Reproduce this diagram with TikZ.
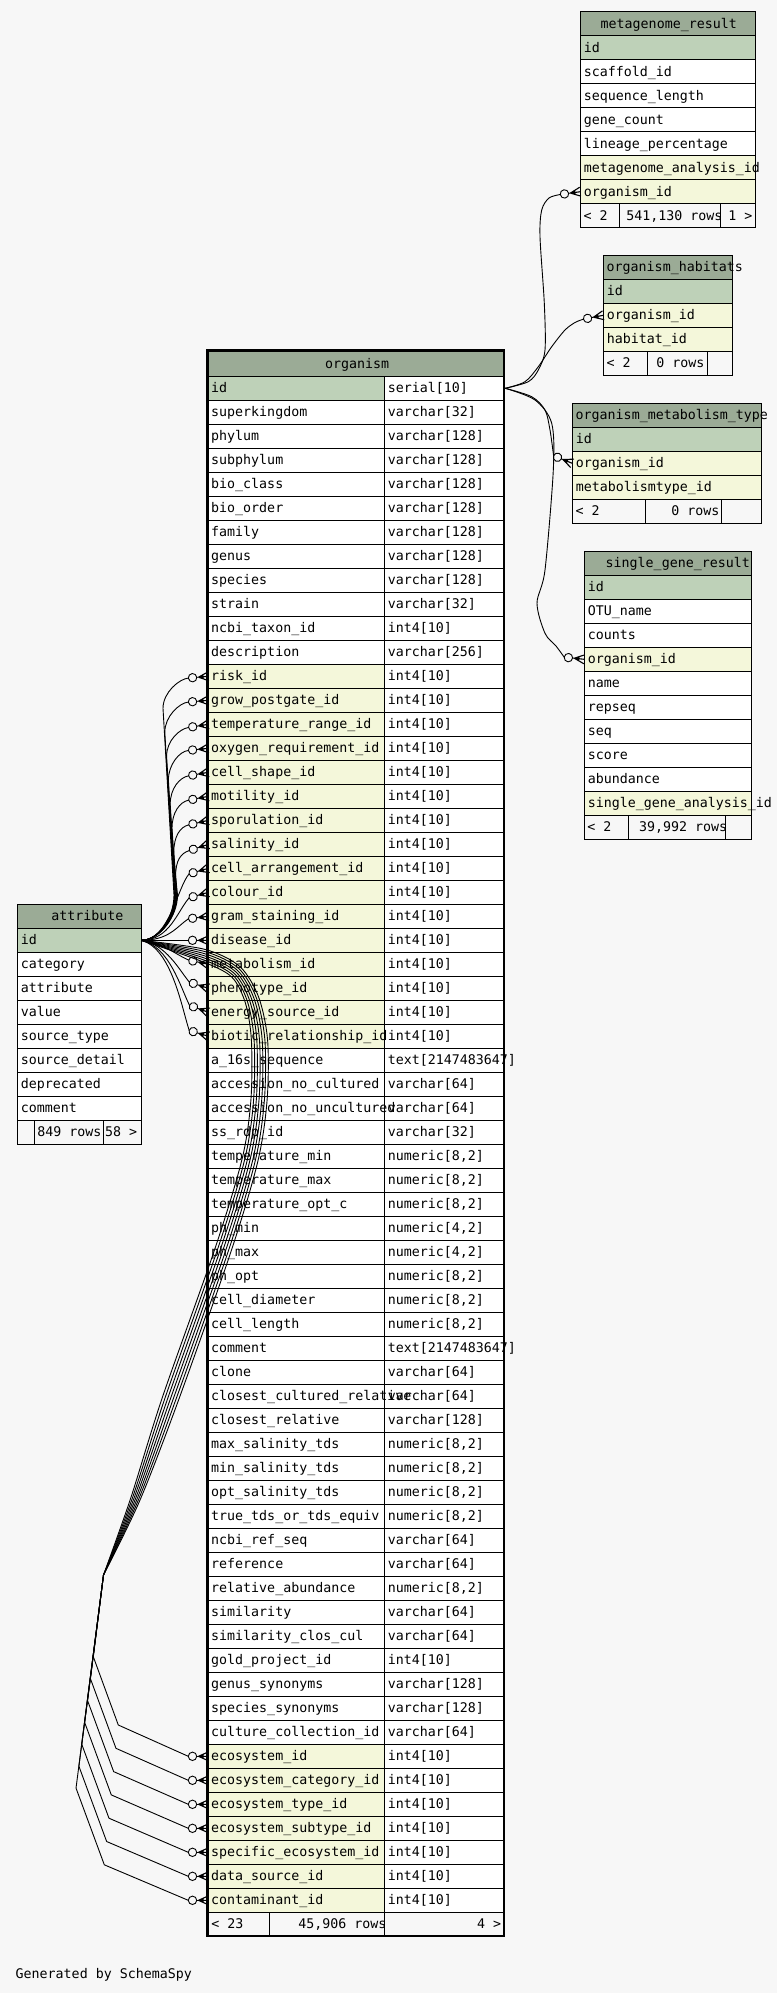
\documentclass[tikz,border=0pt]{standalone}
\usepackage{fontspec}
\setmonofont{DejaVu Sans Mono}
\usetikzlibrary{calc}

\definecolor{bgc}{HTML}{F7F7F7}
\definecolor{hdrc}{HTML}{9BAB96}
\definecolor{pkc}{HTML}{BED1B8}
\definecolor{fkc}{HTML}{F4F7DA}
\newcommand{\dbfont}{\fontsize{13.3}{16}\selectfont\ttfamily}

\tikzset{
  cellline/.style={draw=black, line width=1pt},
  lbl/.style={anchor=base west, inner sep=0pt, outer sep=0pt, font=\dbfont, text=black},
  edgeline/.style={draw=black, line width=0.9pt},
  pics/crowodot/.style={code={
    \draw[edgeline, line width=1.1pt] (-10,0) -- (0,-4.5) (-10,0) -- (0,0) (-10,0) -- (0,4.5);
    \fill[black] (-10,0) -- (-5,-2.2) -- (-5,2.2) -- cycle;
    \draw[edgeline] (-11.8,0) -- (-10,0);
    \draw[edgeline, fill=bgc] (-16,0) circle [radius=4.2];
    \coordinate (-end) at (-20.2,0);
  }}
}

% single-column table: prefix, left x, right x, top y, header text x, header text, rows (text/fill)
\newcommand{\onecol}[7]{
  \filldraw[fill=hdrc, cellline] (#2,#4) rectangle (#3,#4+24);
  \foreach \txt/\fc [count=\n from 0] in {#7} {
    \filldraw[fill=\fc, cellline] (#2,#4+24+24*\n) rectangle (#3,#4+48+24*\n);
  }
  \node[lbl] (#1-head) at (#5,#4+16.5) {#6};
  \foreach \txt/\fc [count=\n from 0] in {#7} {
    \node[lbl] (#1-\n) at (#2+3.5,#4+40.5+24*\n) {\txt};
    \coordinate (#1-L\n) at (#2,#4+36+24*\n);
    \coordinate (#1-R\n) at (#3,#4+36+24*\n);
  }
}
% footer row: left x, first divider, second divider, right x, top y
\newcommand{\footcells}[5]{
  \filldraw[fill=bgc, cellline] (#1,#5) rectangle (#2,#5+24);
  \filldraw[fill=bgc, cellline] (#2,#5) rectangle (#3,#5+24);
  \filldraw[fill=bgc, cellline] (#3,#5) rectangle (#4,#5+24);
}

\def\orgrows{id/pkc/serial[10],
superkingdom/white/varchar[32],
phylum/white/varchar[128],
subphylum/white/varchar[128],
bio\_class/white/varchar[128],
bio\_order/white/varchar[128],
family/white/varchar[128],
genus/white/varchar[128],
species/white/varchar[128],
strain/white/varchar[32],
ncbi\_taxon\_id/white/int4[10],
description/white/varchar[256],
risk\_id/fkc/int4[10],
grow\_postgate\_id/fkc/int4[10],
temperature\_range\_id/fkc/int4[10],
oxygen\_requirement\_id/fkc/int4[10],
cell\_shape\_id/fkc/int4[10],
motility\_id/fkc/int4[10],
sporulation\_id/fkc/int4[10],
salinity\_id/fkc/int4[10],
cell\_arrangement\_id/fkc/int4[10],
colour\_id/fkc/int4[10],
gram\_staining\_id/fkc/int4[10],
disease\_id/fkc/int4[10],
metabolism\_id/fkc/int4[10],
phenotype\_id/fkc/int4[10],
energy\_source\_id/fkc/int4[10],
biotic\_relationship\_id/fkc/int4[10],
a\_16s\_sequence/white/text[2147483647],
accession\_no\_cultured/white/varchar[64],
accession\_no\_uncultured/white/varchar[64],
ss\_rdp\_id/white/varchar[32],
temperature\_min/white/numeric[8{,}2],
temperature\_max/white/numeric[8{,}2],
temperature\_opt\_c/white/numeric[8{,}2],
ph\_min/white/numeric[4{,}2],
ph\_max/white/numeric[4{,}2],
ph\_opt/white/numeric[8{,}2],
cell\_diameter/white/numeric[8{,}2],
cell\_length/white/numeric[8{,}2],
comment/white/text[2147483647],
clone/white/varchar[64],
closest\_cultured\_relative/white/varchar[64],
closest\_relative/white/varchar[128],
max\_salinity\_tds/white/numeric[8{,}2],
min\_salinity\_tds/white/numeric[8{,}2],
opt\_salinity\_tds/white/numeric[8{,}2],
true\_tds\_or\_tds\_equiv/white/numeric[8{,}2],
ncbi\_ref\_seq/white/varchar[64],
reference/white/varchar[64],
relative\_abundance/white/numeric[8{,}2],
similarity/white/varchar[64],
similarity\_clos\_cul/white/varchar[64],
gold\_project\_id/white/int4[10],
genus\_synonyms/white/varchar[128],
species\_synonyms/white/varchar[128],
culture\_collection\_id/white/varchar[64],
ecosystem\_id/fkc/int4[10],
ecosystem\_category\_id/fkc/int4[10],
ecosystem\_type\_id/fkc/int4[10],
ecosystem\_subtype\_id/fkc/int4[10],
specific\_ecosystem\_id/fkc/int4[10],
data\_source\_id/fkc/int4[10],
contaminant\_id/fkc/int4[10]}

\begin{document}
\begin{tikzpicture}[x=1pt, y=-1pt]
\useasboundingbox (0,0) rectangle (777,1993);
\fill[bgc] (0,0) rectangle (777,1993);

% ---------- metagenome_result ----------
\onecol{mg}{580.3}{755.3}{11.7}{600.7}{metagenome\_result}{id/pkc, scaffold\_id/white, sequence\_length/white, gene\_count/white, lineage\_percentage/white, metagenome\_analysis\_id/fkc, organism\_id/fkc}
\footcells{580.3}{619.3}{720.7}{755.3}{203.7}
\node[lbl] (mg-fl) at (583.7,220.2) {< 2};
\begin{scope}
  \clip (619.3,203.7) rectangle (720.7,227.7);
  \node[lbl] (mg-fm) at (626.3,220.2) {541,130 rows};
\end{scope}
\node[lbl] (mg-fr) at (728.3,220.2) {1 >};

% ---------- organism_habitats ----------
\onecol{hab}{603.3}{732.3}{255.3}{606.7}{organism\_habitats}{id/pkc, organism\_id/fkc, habitat\_id/fkc}
\footcells{603.3}{647.3}{707.7}{732.3}{351.3}
\node[lbl] (hab-fl) at (606.7,367.8) {< 2};
\node[lbl] (hab-fm) at (656.3,367.8) {0 rows};

% ---------- organism_metabolism_type ----------
\onecol{omt}{572.3}{761.3}{403.3}{575.7}{organism\_metabolism\_type}{id/pkc, organism\_id/fkc, metabolismtype\_id/fkc}
\footcells{572.3}{645.3}{721.3}{761.3}{499.3}
\node[lbl] (omt-fl) at (575.7,515.8) {< 2};
\node[lbl] (omt-fm) at (671.3,515.8) {0 rows};

% ---------- single_gene_result ----------
\onecol{sg}{584.3}{751.7}{551.3}{605.7}{single\_gene\_result}{id/pkc, OTU\_name/white, counts/white, organism\_id/fkc, name/white, repseq/white, seq/white, score/white, abundance/white, single\_gene\_analysis\_id/fkc}
\footcells{584.3}{628.3}{725.7}{751.7}{815.3}
\node[lbl] (sg-fl) at (587.3,831.8) {< 2};
\begin{scope}
  \clip (628.3,815.3) rectangle (725.7,839.3);
  \node[lbl] (sg-fm) at (639,831.8) {39,992 rows};
\end{scope}

% ---------- attribute ----------
\onecol{att}{17.3}{141.3}{904.3}{51.3}{attribute}{id/pkc, category/white, attribute/white, value/white, source\_type/white, source\_detail/white, deprecated/white, comment/white}
\footcells{17.3}{34.3}{103.7}{141.3}{1120.3}
\node[lbl] (att-fm) at (37.3,1136.8) {849 rows};
\node[lbl] (att-fr) at (105,1136.8) {58 >};

% ---------- organism ----------
\filldraw[fill=hdrc, cellline] (207.3,350.6) rectangle (504,376.3);
\foreach \colA/\colF/\colB [count=\n from 0] in \orgrows {
  \filldraw[fill=\colF, cellline] (207.3,376.3+24*\n) rectangle (384.3,400.3+24*\n);
  \filldraw[fill=white, cellline] (384.3,376.3+24*\n) rectangle (504,400.3+24*\n);
}
\footcells{207.3}{269}{384.3}{504}{1912.3}
\node[lbl] (org-head) at (325,368.8) {organism};
\foreach \colA/\colF/\colB [count=\n from 0] in \orgrows {
  \node[lbl] (org-c\n) at (211.2,392.8+24*\n) {\colA};
  \node[lbl] (org-t\n) at (387.8,392.8+24*\n) {\colB};
  \coordinate (org-L\n) at (208.5,388.3+24*\n);
}
\coordinate (org-R0) at (505.3,388.3);
\node[lbl] (org-fl) at (211.3,1928.8) {< 23};
\begin{scope}
  \clip (269,1912.3) rectangle (384.3,1936);
  \node[lbl] (org-fm) at (298.3,1928.8) {45,906 rows};
\end{scope}
\node[lbl] (org-fr) at (477,1928.8) {4 >};
\draw[line width=2.6pt] (207.3,350.6) rectangle (504,1936);

% ---------- crow's-foot heads ----------
\foreach \kk/\ang in {12/5,13/5,14/9,15/6,16/10,17/11,18/13,19/18,20/16,21/16,22/7,23/0,24/-12,25/-18,26/-20,27/-17,57/0,58/0,59/0,60/0,61/0,62/0,63/0}
  {\pic[rotate=\ang] (h\kk) at (org-L\kk) {crowodot};}
\pic[rotate=8] (hmg) at (mg-L6) {crowodot};
\pic[rotate=11] (hhab) at (hab-L1) {crowodot};
\pic[rotate=-22] (homt) at (omt-L1) {crowodot};
\pic[rotate=-6] (hsg) at (sg-L3) {crowodot};

% ---------- organism.id -> tables on the right ----------
\draw[edgeline] plot[smooth] coordinates {(org-R0) (528.3,381.7) (538.3,370) (545,350) (544.3,303.3) (540,236.7) (541.7,210) (549,198) (hmg-end)};
\draw[edgeline] plot[smooth] coordinates {(org-R0) (525,381.7) (538.3,366.7) (551.7,346.7) (565,330) (575,322.5) (hhab-end)};
\draw[edgeline] plot[smooth] coordinates {(org-R0) (531.7,396.7) (545,410) (550,430) (homt-end)};
\draw[edgeline] plot[smooth] coordinates {(org-R0) (535,400) (551.7,423.3) (553.3,470) (545,570) (537,603.3) (545,633.3) (556,646) (hsg-end)};

% ---------- attribute.id -> organism foreign keys ----------
\foreach \kk/\ang in {12/5,13/5,14/9,15/6,16/10,17/11,18/13,19/18} {
  \pgfmathsetmacro\xv{163+1.8*(\kk-12)}
  \pgfmathsetmacro\xb{174+0.5*(\kk-12)}
  \pgfmathsetmacro\yv{388.3+24*\kk+32}
  \draw[edgeline] (att-R0) .. controls +(18,0) and +(0,22) .. (\xb,895) -- (\xv,\yv)
    .. controls +(0,-16) and +(180-\ang:9) .. (h\kk-end);
}
\draw[edgeline] (att-R0) .. controls +(28,0) and +(-12,14) .. (h20-end);
\draw[edgeline] (att-R0) .. controls +(28,0) and +(-12,14) .. (h21-end);
\draw[edgeline] (att-R0) .. controls +(28,0) and +(-12,8) .. (h22-end);
\draw[edgeline] (att-R0) -- (h23-end);
\draw[edgeline] (att-R0) .. controls +(20,2) and +(-10,-4) .. (h24-end);
\draw[edgeline] (att-R0) .. controls +(25,4) and +(-10,-12) .. (h25-end);
\draw[edgeline] (att-R0) .. controls +(28,6) and +(-9,-18) .. (h26-end);
\draw[edgeline] (att-R0) .. controls +(30,8) and +(-8,-25) .. (h27-end);

% the ecosystem / source group runs down through the organism table
\foreach \ii in {0,...,6} {
  \pgfmathsetmacro\sh{3-\ii}
  \pgfmathtruncatemacro\kk{57+\ii}
  \pgfmathsetmacro\qx{93.3-2.88*\ii}
  \pgfmathsetmacro\qy{1656.7+21.9*\ii}
  \pgfmathsetmacro\rx{118.3-2.33*\ii}
  \pgfmathsetmacro\ry{1725+23.3*\ii}
  \draw[edgeline] plot[smooth, tension=0.5] coordinates {
      (att-R0) (205,956-2.2*\sh) (236+1.3*\sh,972-1.8*\sh) (252+2.2*\sh,1000-1*\sh)
      (259.5+2.7*\sh,1040) (259+2.7*\sh,1100) (250+2.6*\sh,1160+0.5*\sh)
      (223+2.6*\sh,1250+0.7*\sh) (170+2.6*\sh,1400+0.7*\sh) (135+1.5*\sh,1500+0.4*\sh)
      (103.5,1575)}
    -- (\qx,\qy) -- (\rx,\ry) -- (h\kk-end);
}

\node[lbl] (credit) at (15.7,1978.3) {Generated by SchemaSpy};
\end{tikzpicture}
\end{document}
